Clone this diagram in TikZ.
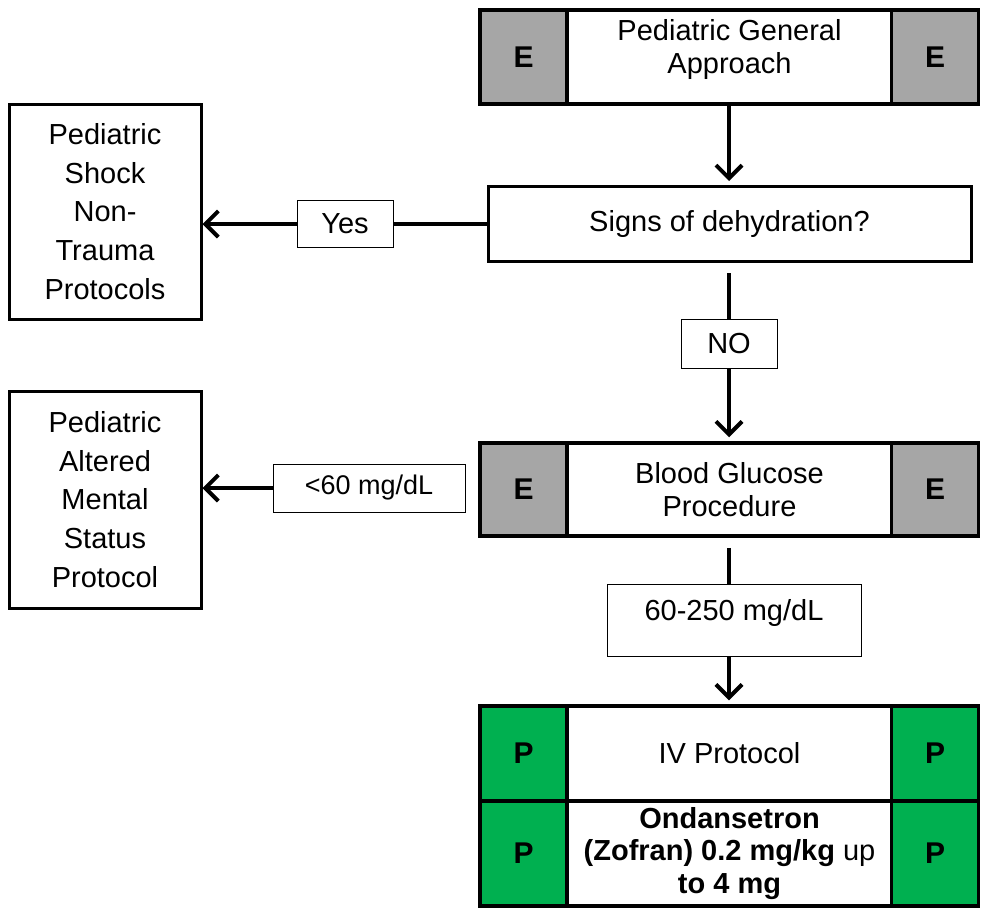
\documentclass[tikz,border=0pt]{standalone}
\usepackage{fontspec}
\setmainfont{Liberation Sans}
\usetikzlibrary{arrows.meta}
\definecolor{cellgray}{HTML}{A6A6A6}
\definecolor{cellgreen}{HTML}{00B050}

\begin{document}
\begin{tikzpicture}[
        x=1pt, y=-1pt,
        every node/.style={inner sep=0pt, align=center, font=\fontsize{29}{33}\selectfont},
        bigbox/.style={draw, line width=3.5pt, fill=white},
        sidebox/.style={bigbox, font=\fontsize{30}{33}\selectfont\bfseries},
        ecell/.style={sidebox, fill=cellgray, minimum width=87, minimum height=#1},
        pcell/.style={sidebox, fill=cellgreen, minimum width=87, minimum height=#1},
        endbox/.style={bigbox, line width=3pt, minimum width=192, font=\fontsize{29}{38.7}\selectfont},
        tag/.style={draw, line width=0.8pt, fill=white},
        flow/.style={line width=4pt, -{Straight Barb[length=13pt, width=26pt]}},
        plain/.style={line width=4pt}
    ]
    \useasboundingbox (0,0) rectangle (982,911);

    %% ---- General approach ----
    \node[bigbox, minimum width=325, minimum height=94, text depth=22pt] (gen) at (729.5,57) {Pediatric General\\Approach};
    \node[ecell=94] (genL) at (523.5,57) {E};
    \node[ecell=94] (genR) at (935,57) {E};

    %% ---- Decision ----
    \node[bigbox, line width=3pt, minimum width=483, minimum height=75] (signs) at (729.5,224) {Signs of dehydration?};

    %% ---- Outcomes on the left ----
    \node[endbox, minimum height=215] (shock) at (105,211.5) {Pediatric\\Shock\\Non-\\Trauma\\Protocols};
    \node[endbox, minimum height=217] (altered) at (105,499.5) {Pediatric\\Altered\\Mental\\Status\\Protocol};

    %% ---- Blood glucose ----
    \node[bigbox, minimum width=325, minimum height=93] (glucose) at (729.5,489.5) {Blood Glucose\\Procedure};
    \node[ecell=93] (glucoseL) at (523.5,489.5) {E};
    \node[ecell=93] (glucoseR) at (935,489.5) {E};

    %% ---- Treatment ----
    \node[bigbox, minimum width=325, minimum height=95] (iv) at (729.5,753.5) {IV Protocol};
    \node[pcell=95] (ivL) at (523.5,753.5) {P};
    \node[pcell=95] (ivR) at (935,753.5) {P};
    \node[bigbox, minimum width=325, minimum height=105, font=\fontsize{29}{32.5}\selectfont] (zofran) at (729.5,853.5)
        {\textbf{Ondansetron}\\\textbf{(Zofran) 0.2 mg/kg} up\\\textbf{to 4 mg}};
    \node[pcell=105] (zofranL) at (523.5,853.5) {P};
    \node[pcell=105] (zofranR) at (935,853.5) {P};

    %% ---- Labels on the connectors ----
    \node[tag, minimum width=96, minimum height=47] (yes) at (345,224) {Yes};
    \node[tag, minimum width=96, minimum height=49] (no) at (729,343.5) {NO};
    \node[tag, minimum width=192, minimum height=48, font=\fontsize{27}{30}\selectfont] (low) at (369,488) {<60 mg/dL};
    \node[tag, minimum width=254, minimum height=72, text depth=20pt] (range) at (734,620) {60-250 mg/dL};

    %% ---- Connectors ----
    \draw[flow, shorten >=4pt] (gen.south -| no) -- (signs.north -| no);
    \draw[plain] (signs.west) -- (yes.east);
    \draw[flow] (yes.west) -- (yes.west -| shock.east);
    \draw[plain, shorten <=10pt] (signs.south -| no) -- (no.north);
    \draw[flow, shorten >=4pt] (no.south) -- (glucose.north -| no);
    \draw[flow] (low.west) -- (low.west -| altered.east);
    \draw[plain, shorten <=10pt] (glucose.south -| no) -- (range.north -| no);
    \draw[flow, shorten >=4pt] (range.south -| no) -- (iv.north -| no);

\end{tikzpicture}
\end{document}
